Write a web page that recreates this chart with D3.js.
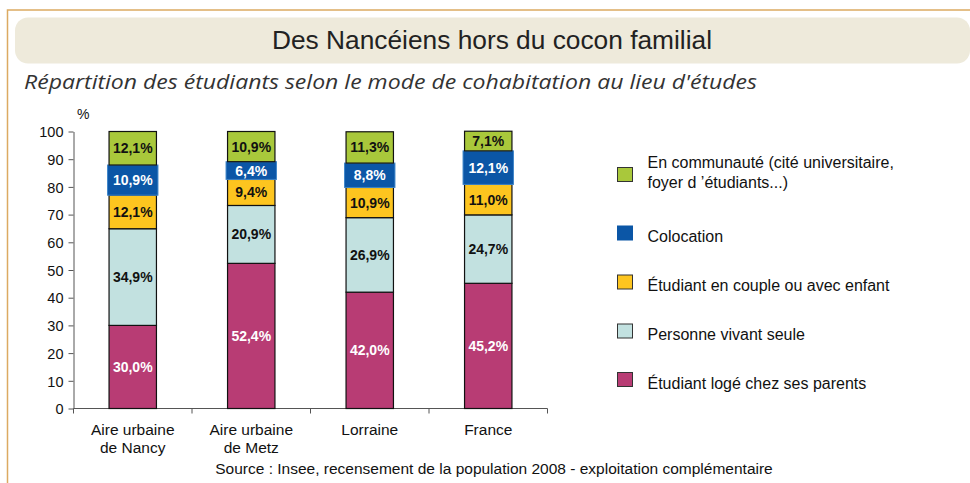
<!DOCTYPE html>
<html>
<head>
<meta charset="utf-8">
<script src="https://cdn.jsdelivr.net/npm/d3@7"></script>
<style>
  body { margin: 0; background: #fff; }
  svg { display: block; font-family: "Liberation Sans", Arial, sans-serif; }
</style>
</head>
<body>
<div id="chart"></div>
<script>
// data
const categories = [["Aire urbaine", "de Nancy"], ["Aire urbaine", "de Metz"], ["Lorraine"], ["France"]];
const seriesNames = ["parents", "seule", "couple", "colocation", "communaute"];
const parents = [30.0, 52.4, 42.0, 45.2];
const seule = [34.9, 20.9, 26.9, 24.7];
const couple = [12.1, 9.4, 10.9, 11.0];
const colocation = [10.9, 6.4, 8.8, 12.1];
const communaute = [12.1, 10.9, 11.3, 7.1];
const yTicks = [0, 10, 20, 30, 40, 50, 60, 70, 80, 90, 100];
const legendLabels = {
  communaute: ["En communauté (cité universitaire,", "foyer d ’étudiants...)"],
  colocation: ["Colocation"],
  couple: ["Étudiant en couple ou avec enfant"],
  seule: ["Personne vivant seule"],
  parents: ["Étudiant logé chez ses parents"]
};

const colors = {
  parents: "#b83c74",
  seule: "#c2e1e0",
  couple: "#fdc51f",
  colocation: "#0b56a6",
  communaute: "#a9c83b"
};
const labelColors = { parents: "#fff", seule: "#111", couple: "#111", colocation: "#fff", communaute: "#111" };

const width = 970, height = 483;
const svg = d3.select("#chart").append("svg").attr("width", width).attr("height", height);

// frame
svg.append("path")
  .attr("d", `M7.5,${height} V10 H${width}`)
  .attr("fill", "none")
  .attr("stroke", "#dcaa62")
  .attr("stroke-width", 1.5);

// title box
svg.append("rect")
  .attr("x", 15).attr("y", 17.5)
  .attr("width", 955).attr("height", 46)
  .attr("rx", 13)
  .attr("fill", "#eeeadb");

svg.append("text")
  .attr("x", 272).attr("y", 49)
  .style("font-size", "25.5px")
  .attr("textLength", 440)
  .attr("lengthAdjust", "spacingAndGlyphs")
  .attr("fill", "#222")
  .text("Des Nancéiens hors du cocon familial");

svg.append("text")
  .attr("x", 24).attr("y", 89)
  .style("font-family", "'Open Sans', Lato, sans-serif")
  .style("font-style", "italic")
  .style("font-size", "20px")
  .attr("textLength", 733)
  .attr("lengthAdjust", "spacingAndGlyphs")
  .attr("fill", "#333")
  .text("Répartition des étudiants selon le mode de cohabitation au lieu d'études");

// table built from the series arrays
const rows = categories.map((c, i) => ({
  key: c.join(" "),
  parents: parents[i],
  seule: seule[i],
  couple: couple[i],
  colocation: colocation[i],
  communaute: communaute[i]
}));

const stacked = d3.stack().keys(seriesNames)(rows);

const x = d3.scaleBand()
  .domain(rows.map(d => d.key))
  .range([73.5, 547.5]);

const y = d3.scaleLinear().domain([0, 100]).range([408.5, 131.5]);

const barW = x.bandwidth() * 0.4;

// y axis
const yAxis = svg.append("g")
  .attr("transform", "translate(73.5,0)")
  .call(d3.axisLeft(y).tickValues(yTicks).tickSize(5).tickPadding(5).tickSizeOuter(0));
yAxis.select(".domain").attr("stroke", "#555");
yAxis.selectAll(".tick line").attr("stroke", "#555");
yAxis.selectAll("text").style("font-size", "14.5px").attr("fill", "#111").attr("dy", "0.36em");

svg.append("text")
  .attr("x", 77).attr("y", 119)
  .style("font-size", "14px")
  .attr("fill", "#111")
  .text("%");

// x axis line with ticks on band edges
svg.append("line")
  .attr("x1", x.range()[0]).attr("x2", x.range()[1])
  .attr("y1", y(0)).attr("y2", y(0))
  .attr("stroke", "#555");

const edges = rows.map(d => x(d.key)).concat([x.range()[1]]);
svg.append("g").selectAll("line")
  .data(edges)
  .join("line")
  .attr("x1", d => d).attr("x2", d => d)
  .attr("y1", y(0)).attr("y2", y(0) + 5)
  .attr("stroke", "#555");

const catLabels = svg.append("g").selectAll("text")
  .data(categories)
  .join("text")
  .attr("x", (d, i) => x(rows[i].key) + x.bandwidth() / 2)
  .attr("y", 435)
  .attr("text-anchor", "middle")
  .style("font-size", "15.5px")
  .attr("fill", "#111");
catLabels.selectAll("tspan")
  .data(d => d)
  .join("tspan")
  .attr("x", function () { return d3.select(this.parentNode).attr("x"); })
  .attr("dy", (d, i) => i === 0 ? 0 : 17.5)
  .text(d => d);

// bars
const fmt = v => d3.format(".1f")(v).replace(".", ",") + "%";

const layers = svg.append("g").selectAll("g")
  .data(stacked)
  .join("g");

layers.selectAll("rect")
  .data(s => s.map(p => ({ key: s.key, p })))
  .join("rect")
  .attr("x", d => x(d.p.data.key) + (x.bandwidth() - barW) / 2 - (d.key === "colocation" ? 1.5 : 0))
  .attr("width", d => barW + (d.key === "colocation" ? 3 : 0))
  .attr("y", d => y(d.p[1]))
  .attr("height", d => y(d.p[0]) - y(d.p[1]))
  .attr("fill", d => colors[d.key])
  .attr("stroke", d => d.key === "colocation" ? "#3f86c9" : "#111")
  .attr("stroke-width", d => d.key === "colocation" ? 1 : 1.2);

layers.selectAll("text")
  .data(s => s.map(p => ({ key: s.key, p })))
  .join("text")
  .attr("x", d => x(d.p.data.key) + x.bandwidth() / 2)
  .attr("y", d => (y(d.p[0]) + y(d.p[1])) / 2)
  .attr("dy", "0.36em")
  .attr("text-anchor", "middle")
  .style("font-size", "14px")
  .style("font-weight", "bold")
  .attr("fill", d => labelColors[d.key])
  .text(d => fmt(d.p.data[d.key]));

// legend, top to bottom
const legendOrder = seriesNames.slice().reverse();
const legendY = { communaute: 167.5, colocation: 226, couple: 275, seule: 324, parents: 372.5 };

const leg = svg.append("g").selectAll("g")
  .data(legendOrder)
  .join("g")
  .attr("transform", d => `translate(617.5,${legendY[d]})`);

leg.append("rect")
  .attr("width", 15).attr("height", 14)
  .attr("fill", d => colors[d])
  .attr("stroke", d => d === "colocation" ? colors[d] : "#333")
  .attr("stroke-width", 1);

const legText = leg.append("text")
  .attr("x", 30)
  .attr("y", d => legendLabels[d].length > 1 ? 0 : 16)
  .style("font-size", "16px")
  .attr("fill", "#111");
legText.selectAll("tspan")
  .data(d => legendLabels[d])
  .join("tspan")
  .attr("x", 30)
  .attr("dy", (d, i) => i === 0 ? 0 : 20)
  .text(d => d);

// source
svg.append("text")
  .attr("x", 494).attr("y", 474)
  .attr("text-anchor", "middle")
  .style("font-size", "15.5px")
  .attr("fill", "#111")
  .text("Source : Insee, recensement de la population 2008 - exploitation complémentaire");
</script>
</body>
</html>
